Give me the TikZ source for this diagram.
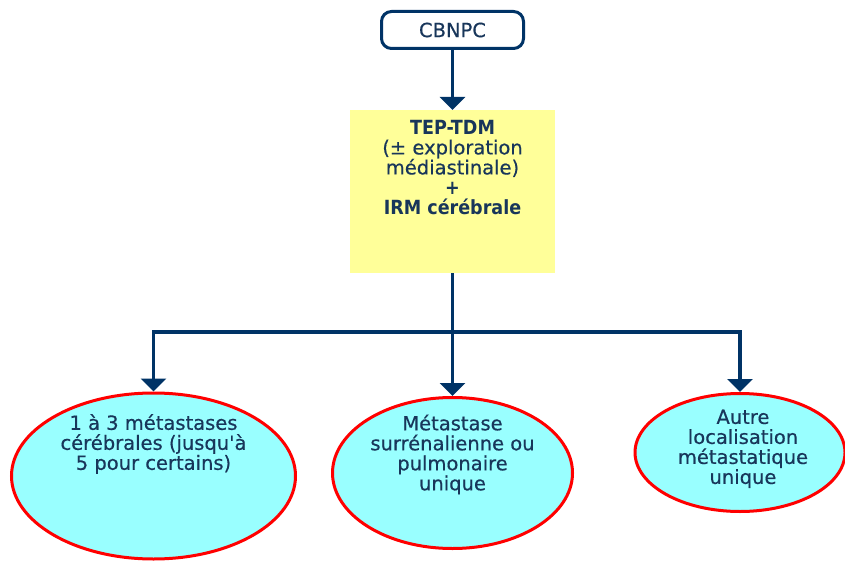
\documentclass[tikz,border=0pt]{standalone}
\usepackage{fontspec}
\setmainfont{DejaVu Sans}[BoldFont = {DejaVu Sans Condensed Bold}, UprightFeatures = {FakeBold = 0.5}, Ligatures = TeXOff]
\usetikzlibrary{arrows.meta, shapes.geometric}

\begin{document}
\begin{tikzpicture}[x = 1pt, y = -1pt,
        txt/.style = {align = center, inner sep = 0pt, text = mytextblue, font = \fontsize{19.5}{20}\selectfont},
        site/.style = {ellipse, draw = myred, line width = 3pt, fill = mycyan, inner sep = 0pt},
        link/.style = {draw = mynavy, line width = 3.5pt},
        arrow/.style = {link, -{Triangle[length = 13pt, width = 25pt]}}]
        \useasboundingbox (0, 0) rectangle (845, 561);
        \definecolor{mytextblue}{RGB}{24,54,90}
        \definecolor{mynavy}{RGB}{0,51,102}
        \definecolor{myred}{RGB}{255,0,0}
        \definecolor{mycyan}{RGB}{153,255,255}
        \definecolor{myyellow}{RGB}{255,255,153}

        \node[txt, draw = mynavy, line width = 3pt, rounded corners = 10pt, minimum width = 142pt, minimum height = 37pt] at (452.5, 30) (cbnpc) {CBNPC};

        \node[rectangle, fill = myyellow, minimum width = 205pt, minimum height = 163pt, anchor = north] at (452.5, 110) (tep) {};
        \node[txt, anchor = north] at ([yshift = -10pt] tep.north) (teptxt) {\textbf{TEP-TDM}\\(± exploration\\médiastinale)\\\textbf{+}\\\textbf{IRM cérébrale}};

        \node[site, minimum width = 284pt, minimum height = 166pt] at (153.5, 476) (e1) {};
        \node[txt, anchor = north] at ([yshift = -22.5pt] e1.north) (e1txt) {1 à 3 métastases\\cérébrales (jusqu'à\\5 pour certains)};

        \node[site, minimum width = 240pt, minimum height = 151pt] at (452.5, 473) (e2) {};
        \node[txt, anchor = north] at ([yshift = -18.5pt] e2.north) (e2txt) {Métastase\\surrénalienne ou\\pulmonaire\\unique};

        \node[site, minimum width = 210pt, minimum height = 118pt] at (740, 452.5) (e3) {};
        \node[txt, anchor = north] at ([xshift = 3pt, yshift = -17.5pt] e3.north) (e3txt) {Autre\\localisation\\métastatique\\unique};

        \coordinate (split) at (452.5, 332);
        \path[arrow] (cbnpc.south) -- (tep.north);
        \path[link] (tep.south) -- (split);
        \path[arrow] (split) -| (e1.north);
        \path[arrow] (split) -- (e2.north);
        \path[arrow] (split) -| (e3.north);
\end{tikzpicture}
\end{document}
